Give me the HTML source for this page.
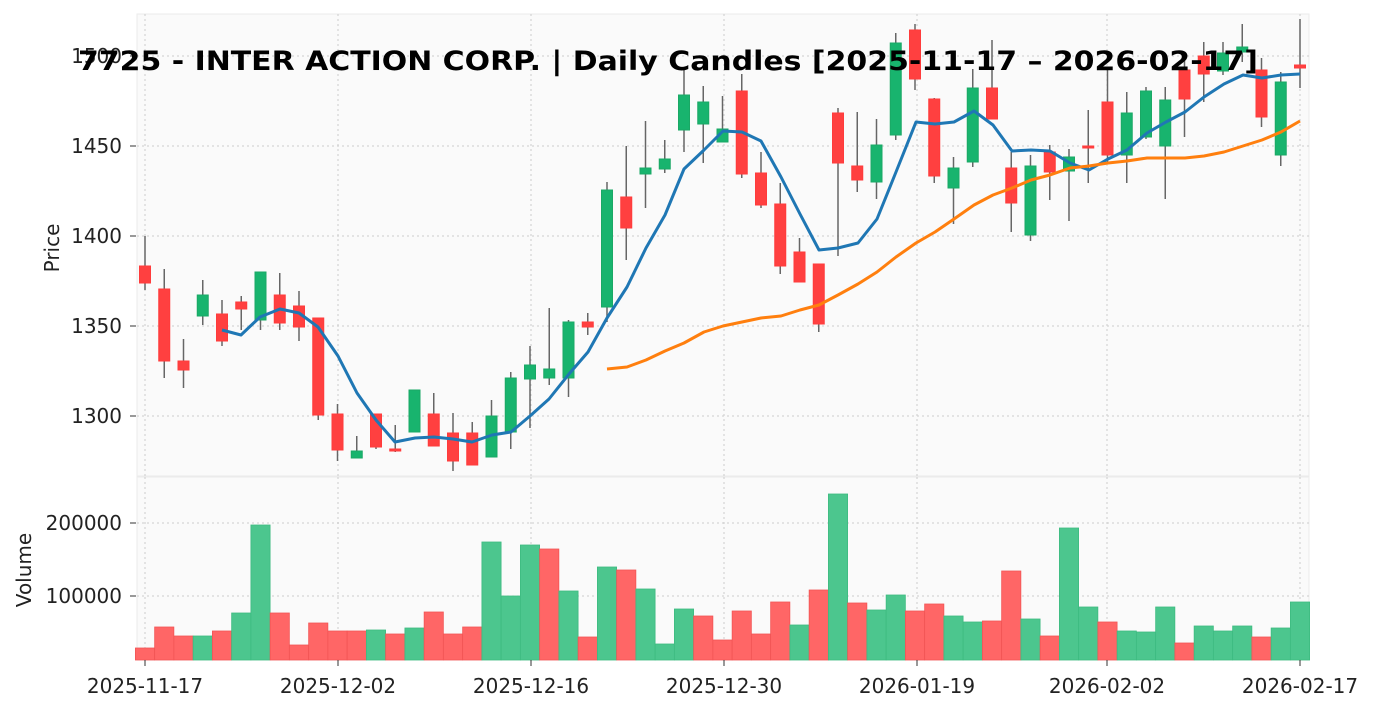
<!DOCTYPE html>
<html><head><meta charset="utf-8"><style>
body{margin:0;background:#fff;}
svg{display:block;font-family:"DejaVu Sans","Liberation Sans",sans-serif;}
</style></head><body>
<svg id="s" width="1376" height="711" xmlns="http://www.w3.org/2000/svg">
<rect x="0" y="0" width="1376" height="711" fill="#fff"/>
<rect x="137" y="14" width="1172" height="462" fill="#fafafa" stroke="#ebebeb"/>
<rect x="137" y="477" width="1172" height="183" fill="#fafafa" stroke="#ebebeb"/>
<g id="grid" stroke="#cccccc" stroke-dasharray="2,3" stroke-width="1"></g>
<g id="vol"></g>
<g id="cand"></g>
<g id="ma"></g>
<g font-size="20" fill="#222" id="lab">
<text x="122" y="423" text-anchor="end">1300</text>
<text x="122" y="333" text-anchor="end">1350</text>
<text x="122" y="243" text-anchor="end">1400</text>
<text x="122" y="153" text-anchor="end">1450</text>
<text x="122" y="63" text-anchor="end">1500</text>
<text x="122" y="530" text-anchor="end">200000</text>
<text x="122" y="603" text-anchor="end">100000</text>
<text x="145" y="693" text-anchor="middle">2025-11-17</text>
<text x="338" y="693" text-anchor="middle">2025-12-02</text>
<text x="531" y="693" text-anchor="middle">2025-12-16</text>
<text x="724" y="693" text-anchor="middle">2025-12-30</text>
<text x="917" y="693" text-anchor="middle">2026-01-19</text>
<text x="1107" y="693" text-anchor="middle">2026-02-02</text>
<text x="1300" y="693" text-anchor="middle">2026-02-17</text>
<text transform="translate(59,248) rotate(-90)" text-anchor="middle" font-size="20">Price</text>
<text transform="translate(31,570) rotate(-90)" text-anchor="middle" font-size="20">Volume</text>
</g>
<text x="78" y="70" font-size="27" font-weight="bold" fill="#000" textLength="1180" lengthAdjust="spacingAndGlyphs">7725 - INTER ACTION CORP. | Daily Candles [2025-11-17 – 2026-02-17]</text>
</svg>
<script>
const NS="http://www.w3.org/2000/svg";
function el(p,t,a){const e=document.createElementNS(NS,t);for(const k in a)e.setAttribute(k,a[k]);p.appendChild(e);return e;}
const g=document.getElementById('grid');
[145,338,531,724,917,1107,1300].forEach(x=>{el(g,'line',{x1:x,x2:x,y1:14,y2:476});el(g,'line',{x1:x,x2:x,y1:477,y2:660});
 el(document.getElementById('lab'),'line',{x1:x,x2:x,y1:660,y2:666,stroke:'#333'});});
[416,326,236,146,56].forEach(y=>{el(g,'line',{x1:137,x2:1309,y1:y,y2:y});el(document.getElementById('lab'),'line',{x1:130,x2:136,y1:y,y2:y,stroke:'#333'});});
[523,596].forEach(y=>{el(g,'line',{x1:137,x2:1309,y1:y,y2:y});el(document.getElementById('lab'),'line',{x1:130,x2:136,y1:y,y2:y,stroke:'#333'});});
const C=[
['r',266,283,236,290],['r',289,361,269,378],['r',361,370,339,388],['g',295,316,280,325],['r',314,341,300,346],
['r',302,309,296,330],['g',272,320,272,330],['r',295,323,273,330],['r',306,327,291,341],['r',318,415,318,420],
['r',414,450,404,461],['g',451,458,436,458],['r',414,447,414,449],['r',449,450,425,452],['g',390,432,390,432],
['r',414,446,393,446],['r',433,461,413,471],['r',433,465,422,465],['g',416,457,400,457],['g',378,432,372,449],
['g',365,379,346,428],['g',369,378,308,385],['g',322,378,320,397],['r',322,327,313,335],['g',190,307,182,322],
['r',197,228,146,260],['g',168,174,121,208],['g',159,169,140,173],['g',95,130,68,152],['g',102,124,86,163],
['g',129,142,96,142],['r',91,174,74,178],['r',173,205,152,208],['r',204,266,183,274],['r',252,282,238,282],
['r',264,324,264,332],['r',113,163,108,256],['r',166,180,112,192],['g',145,182,119,199],['g',43,135,33,140],
['r',30,79,24,90],['r',99,176,98,183],['g',168,188,157,224],['g',88,162,69,167],['r',88,119,40,119],
['r',168,203,152,232],['g',166,235,155,241],['r',152,172,145,200],['g',157,171,149,221],['r',146,148,110,183],
['r',102,155,68,163],['g',113,155,92,183],['g',91,137,87,139],['g',100,146,87,199],['r',70,99,60,137],
['r',56,74,42,102],['g',53,71,42,75],['g',47,52,24,62],['r',70,117,58,127],['g',82,155,72,166],['r',65,68,19,88]];
const V=[648,627,636,636,631,613,525,613,645,623,631,631,630,634,628,612,634,627,542,596,545,549,591,637,567,570,589,644,609,616,640,611,634,602,625,590,494,603,610,595,611,604,616,622,621,571,619,636,528,607,622,631,632,607,643,626,631,626,637,628,602];
const VC="rrrgrggrrrrrgrgrrrgggrgrgrgggrrrrrgrgrggrrggrrgrggrgggrgggrgg";
const cg=document.getElementById('cand'),vg=document.getElementById('vol');
C.forEach((c,i)=>{const x=145+i*19.25;const col=c[0]=='r'?'#ff4040':'#18b46e';
 el(cg,'line',{x1:x,x2:x,y1:c[3],y2:c[4],stroke:'#666','stroke-width':1.5});
 el(cg,'rect',{x:x-5.5,y:c[1],width:11,height:Math.max(2,c[2]-c[1]),fill:col,stroke:c[0]=='r'?'#ff3b3b':'#1aa865','stroke-width':1});
 const vc=VC[i]=='r'?'#ff6666':'#4cc68e';
 el(vg,'rect',{x:x-9.6,y:V[i],width:19.2,height:660-V[i],fill:vc,stroke:VC[i]=='r'?'#f25555':'#3dbb80','stroke-width':0.8});
});
const B="222,330 241,335 260,317 280,309 299,313 318,327 338,356 357,393 376,420 395,442 415,438 434,437 453,439 472,442 492,435 511,432 530,416 549,399 569,374 588,352 607,318 627,287 646,248 665,215 684,169 704,150 723,131 742,132 761,141 781,177 800,214 819,250 838,248 858,243 877,219 896,172 916,122 935,124 954,122 974,111 993,125 1012,151 1031,150 1050,151 1070,163 1089,170 1108,159 1127,150 1147,133 1166,122 1185,112 1204,97 1224,84 1243,75 1262,78 1281,75 1300,74";
const O="607,369 627,367 646,360 665,351 684,343 704,332 723,326 742,322 761,318 781,316 800,310 819,305 838,295 858,284 877,272 896,257 916,243 935,232 954,219 974,205 993,195 1012,188 1031,180 1050,175 1070,168 1089,166 1108,163 1127,161 1147,158 1166,158 1185,158 1204,156 1224,152 1243,146 1262,140 1281,132 1300,121";
const m=document.getElementById('ma');
el(m,'polyline',{points:B,fill:'none',stroke:'#1f77b4','stroke-width':3,'stroke-linejoin':'round'});
el(m,'polyline',{points:O,fill:'none',stroke:'#ff7f0e','stroke-width':3,'stroke-linejoin':'round'});
</script>
</body></html>
